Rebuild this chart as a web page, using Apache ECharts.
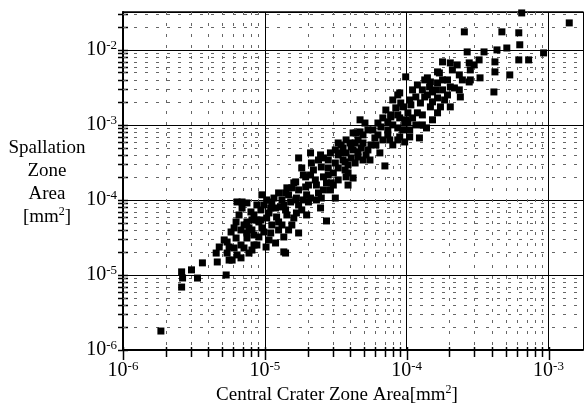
<!DOCTYPE html>
<html>
<head>
<meta charset="utf-8">
<script src="https://cdn.jsdelivr.net/npm/echarts@6/dist/echarts.min.js"></script>
<style>html,body{margin:0;padding:0;background:#fff}#c{width:586px;height:407px}</style>
</head>
<body>
<div id="c"></div>
<script>
// ---- data: [central crater zone area, spallation zone area] in mm^2 ----
const lowerPoints = [
  [1.85e-6,1.79e-6],[2.59e-6,1.10e-5],[2.63e-6,9.12e-6],[2.59e-6,6.9e-6],[3.04e-6,1.17e-5],
  [3.35e-6,9.1e-6],[3.63e-6,1.45e-5],[4.54e-6,1.96e-5],[4.62e-6,1.49e-5],[5.34e-6,1.0e-5],
  [4.77e-6,2.36e-5],[5.42e-6,1.96e-5],[5.6e-6,1.58e-5],[5.17e-6,2.93e-5],[5.6e-6,2.36e-5],
  [6.37e-6,1.85e-5],[5.78e-6,3.74e-5],[6.27e-6,3.11e-5],[6.79e-6,2.51e-5],[7.73e-6,1.96e-5],
  [6.27e-6,5.09e-5],[6.79e-6,3.98e-5],[7.48e-6,3.11e-5],[8.38e-6,2.51e-5],[6.79e-6,1.69e-5],
  [6.37e-6,9.4e-5],[6.91e-6,7.82e-5],[7.48e-6,9.12e-5],[7.48e-6,5.09e-5],[8.11e-6,3.98e-5],
  [9.08e-6,3.21e-5],[7.98e-6,6.92e-5],[8.79e-6,8.58e-5],[8.79e-6,5.41e-5],[9.53e-6,4.24e-5],
  [9.38e-6,7.36e-5],[9.53e-6,1.17e-4],[6.91e-6,9.4e-5],[5.42e-6,2.75e-5],[5.88e-6,1.58e-5],
  [8.11e-6,2.15e-5],[7.48e-6,3.63e-5],[8.11e-6,5.41e-5],
  [6.07e-6,4.24e-5],[6.58e-6,6.31e-5],[7.13e-6,4.64e-5],[7.73e-6,4.24e-5],[8.38e-6,6.31e-5],
  [8.38e-6,3.41e-5],[9.08e-6,5.09e-5],[7.13e-6,2.29e-5],[6.07e-6,2.29e-5],[8.79e-6,2.51e-5],
  [9.84e-6,8.58e-5],[9.84e-6,3.74e-5],[9.38e-6,5.41e-5]
];
const middlePoints = [
  [1.02e-5,2.36e-5],[1.03e-5,1.0e-4],[1.03e-5,5.75e-5],[1.12e-5,4.64e-5],[1.10e-5,3.63e-5],
  [1.19e-5,2.67e-5],[1.10e-5,7.82e-5],[1.21e-5,5.93e-5],[1.32e-5,4.64e-5],[1.36e-5,3.21e-5],
  [1.36e-5,2.03e-5],[1.25e-5,1.24e-4],[1.29e-5,8.07e-5],[1.43e-5,6.31e-5],[1.55e-5,4.64e-5],
  [1.43e-5,1.45e-4],[1.52e-5,9.4e-5],[1.67e-5,6.71e-5],[1.65e-5,1.74e-4],[1.67e-5,1.06e-4],
  [1.73e-5,3.63e-5],[1.12e-5,9.4e-5],[1.19e-5,7.82e-5],[1.40e-5,7.36e-5],[1.82e-5,7.36e-5],
  [1.97e-5,6.31e-5],[2.47e-5,7.82e-5],[2.72e-5,5.25e-5],[1.65e-5,1.0e-4],[2.03e-5,9.4e-5],
  [2.50e-5,1.06e-4],[3.14e-5,1.06e-4],[1.40e-5,1.24e-4],[1.55e-5,1.45e-4],[1.97e-5,1.17e-4],
  [2.39e-5,1.24e-4],[2.90e-5,1.36e-4],[1.60e-5,1.69e-4],[1.94e-5,1.49e-4],[2.31e-5,1.58e-4],
  [2.72e-5,1.69e-4],[3.29e-5,1.85e-4],[3.74e-5,2.03e-4],[4.19e-5,1.96e-4],[1.82e-5,2.67e-4],
  [2.10e-5,2.15e-4],[2.59e-5,2.03e-4],[3.04e-5,2.29e-4],[3.68e-5,2.51e-4],[2.13e-5,3.11e-4],
  [2.50e-5,2.75e-4],[3.14e-5,3.11e-4],[3.68e-5,3.21e-4],[4.33e-5,3.11e-4],[4.54e-5,3.74e-4],
  [1.73e-5,3.63e-4],[2.10e-5,4.24e-4],[2.47e-5,3.98e-4],[2.90e-5,4.24e-4],[3.14e-5,4.64e-4],
  [3.56e-5,4.93e-4],[3.99e-5,5.75e-4],[4.40e-5,7.82e-4],[4.69e-5,1.17e-3],[5.08e-5,1.06e-3],
  [3.74e-5,6.31e-4],[4.33e-5,5.75e-4],[3.29e-5,5.75e-4],[3.40e-5,4.24e-4],[4.06e-5,3.63e-4],
  [7.02e-5,2.84e-4],[2.80e-5,2.67e-4],[3.86e-5,2.29e-4],[2.94e-5,1.69e-4],[1.94e-5,2.03e-4],
  [2.27e-5,1.85e-4],[4.19e-5,7.82e-4],[4.69e-5,8.07e-4],[5.33e-5,8.58e-4],[4.77e-5,4.93e-4],
  [4.92e-5,5.75e-4],[5.60e-5,5.41e-4],[5.17e-5,3.98e-4],[6.47e-5,4.24e-4],[7.98e-5,5.41e-4],
  [7.60e-5,6.31e-4],[5.97e-5,6.71e-4],[6.27e-5,7.36e-4],[6.58e-5,9.4e-4],[7.36e-5,8.58e-4],
  [8.65e-5,9.12e-4],[8.93e-5,6.92e-4],[9.68e-5,5.93e-4],[3.45e-5,5.41e-4],[4.06e-5,5.09e-4],
  [3.29e-5,3.98e-4],[3.74e-5,4.24e-4],[4.54e-5,4.37e-4],[2.59e-5,3.63e-4],[1.32e-5,1.0e-4],
  [1.40e-5,1.96e-5],[9.68e-5,1.06e-3],[7.73e-5,1.28e-3],[8.38e-5,1.69e-3],[6.27e-5,1.06e-3],
  [7.36e-5,1.10e-3],[9.84e-5,1.17e-3],[8.93e-5,1.24e-3],[9.38e-5,1.74e-3],[8.93e-5,2.67e-3],
  [9.84e-5,4.37e-3],[7.73e-5,1.36e-3],[9.08e-5,1.96e-3],[8.65e-5,2.51e-3],
  [1.07e-5,6.71e-5],[1.16e-5,1.06e-4],[1.25e-5,5.09e-5],[1.36e-5,8.58e-5],[1.47e-5,1.17e-4],
  [1.47e-5,3.98e-5],[1.60e-5,5.75e-5],[1.73e-5,8.58e-5],[1.73e-5,1.36e-4],[1.07e-5,2.93e-5],
  [1.25e-5,3.98e-5],
  [1.87e-5,2.15e-4],[2.03e-5,1.58e-4],[2.20e-5,2.51e-4],[2.31e-5,1.0e-4],[2.59e-5,1.36e-4],
  [2.80e-5,2.15e-4],[3.04e-5,1.58e-4],[3.29e-5,2.67e-4],[2.10e-5,1.06e-4],[1.87e-5,1.0e-4],
  [2.80e-5,3.41e-4],[2.39e-5,3.41e-4],
  [3.56e-5,3.41e-4],[3.86e-5,2.93e-4],[4.19e-5,4.64e-4],[4.54e-5,6.31e-4],[4.92e-5,3.41e-4],
  [5.33e-5,4.64e-4],[5.78e-5,8.58e-4],[6.07e-5,5.41e-4],[3.86e-5,1.58e-4],[4.92e-5,7.36e-4],
  [5.51e-5,3.41e-4],[6.79e-5,6.31e-4],
  [6.79e-5,1.24e-3],[7.36e-5,7.36e-4],[7.98e-5,1.0e-3],[8.65e-5,1.36e-3],[9.38e-5,8.58e-4],
  [8.65e-5,6.31e-4],[7.13e-5,1.58e-3],[7.98e-5,2.15e-3]
];
const upperPoints = [
  [1.05e-4,6.92e-4],[1.23e-4,6.71e-4],[1.38e-4,9.12e-4],[1.05e-4,8.58e-4],[1.02e-4,1.45e-3],
  [1.19e-4,1.45e-3],[1.65e-4,1.45e-3],[1.07e-4,1.85e-3],[1.25e-4,1.96e-3],[1.47e-4,1.74e-3],
  [1.73e-4,1.74e-3],[2.03e-4,1.74e-3],[1.05e-4,2.15e-3],[1.16e-4,2.36e-3],[1.34e-4,2.36e-3],
  [1.65e-4,2.29e-3],[1.85e-4,2.15e-3],[1.29e-4,2.93e-3],[1.60e-4,2.93e-3],[2.03e-4,3.21e-3],
  [2.35e-4,2.93e-3],[4.12e-4,2.75e-3],[1.34e-4,3.98e-3],[1.47e-4,3.74e-3],[1.65e-4,3.63e-3],
  [1.45e-4,3.21e-3],[1.70e-4,4.93e-3],[1.40e-4,4.24e-3],[2.35e-4,4.64e-3],[2.47e-4,3.98e-3],
  [2.81e-4,3.98e-3],[3.29e-4,4.24e-3],[2.76e-4,3.74e-3],[2.81e-4,5.41e-3],[4.19e-4,5.09e-3],
  [5.33e-4,4.64e-3],[1.79e-4,6.92e-3],[2.03e-4,6.71e-3],[2.76e-4,6.71e-3],[3.24e-4,7.36e-3],
  [4.19e-4,6.92e-3],[6.17e-4,7.36e-3],[7.24e-4,7.36e-3],[2.99e-4,6.31e-3],[2.67e-4,9.4e-3],
  [3.51e-4,9.4e-3],[4.33e-4,1.0e-2],[5.08e-4,1.06e-2],[9.23e-4,9.12e-3],[6.27e-4,1.17e-2],
  [2.55e-4,1.74e-2],[4.69e-4,1.74e-2],[6.17e-4,1.69e-2],[6.47e-4,3.11e-2],[1.40e-3,2.29e-2],
  [2.17e-4,3.11e-3],[2.39e-4,2.36e-3],[1.52e-4,2.03e-3],[1.65e-4,5.09e-3],
  [1.02e-4,1.10e-3],[1.10e-4,1.24e-3],[1.16e-4,1.0e-3],[1.29e-4,1.36e-3],[1.40e-4,2.51e-3],
  [1.52e-4,2.75e-3],[1.79e-4,2.93e-3],[1.94e-4,3.98e-3],[2.10e-4,5.41e-3],[1.79e-4,3.98e-3],
  [1.19e-4,3.41e-3],[2.27e-4,6.31e-3],[1.94e-4,2.51e-3],[1.10e-4,2.93e-3],[1.52e-4,1.17e-3],
  [1.29e-4,1.0e-3]
];

// ---- axes ----
const xTickExponents = [-6, -5, -4, -3];
const yTickExponents = [-6, -5, -4, -3, -2];
const minorMultipliers = [2, 3, 4, 5, 6, 7, 8, 9];
const X_MIN = 1e-6, X_MAX = 1.75e-3;
const Y_MIN = 1e-6, Y_MAX = 3.2e-2;

const FONT = '"Liberation Serif", "Times New Roman", serif';

function decadeTicks(exps, lo, hi) {
  const major = [], minor = [];
  exps.forEach(e => {
    const d = Math.pow(10, e);
    if (d >= lo && d <= hi) major.push(d);
    minorMultipliers.forEach(m => { const v = m * d; if (v > lo && v < hi) minor.push(v); });
  });
  return { major, minor };
}
const xt = decadeTicks(xTickExponents, X_MIN, X_MAX);
const yt = decadeTicks(yTickExponents, Y_MIN, Y_MAX);

function expLabel(exps) {
  return function (v) {
    const e = Math.log10(v);
    const r = Math.round(e);
    if (Math.abs(e - r) > 1e-6 || exps.indexOf(r) < 0) return '';
    return '{b|10}{s|' + r + '}';
  };
}
const labelRich = {
  b: { fontFamily: FONT, fontSize: 20, color: '#000', lineHeight: 22 },
  s: { fontFamily: FONT, fontSize: 13, color: '#000', lineHeight: 11, verticalAlign: 'top' }
};

const crisp = v => Math.round(v) + 0.5;
const MINOR_STYLE = { stroke: '#666', lineWidth: 1, lineDash: [3, 8] };

const chart = echarts.init(document.getElementById('c'), null, { renderer: 'canvas' });
chart.setOption({
  backgroundColor: '#fff',
  animation: false,
  grid: { left: 123, right: -2, top: 12, bottom: 57, show: false },
  xAxis: [{
    type: 'log', logBase: 10, min: X_MIN, max: X_MAX, position: 'bottom',
    axisLine: { show: true, onZero: false, lineStyle: { color: '#000', width: 2 } },
    axisTick: { show: false },
    splitLine: { show: true, lineStyle: { color: '#000', width: 1 } },
    axisLabel: { formatter: expLabel(xTickExponents), rich: labelRich, margin: 10, showMinLabel: true, showMaxLabel: true }
  }, {
    type: 'log', logBase: 10, min: X_MIN, max: X_MAX, position: 'top',
    axisLine: { show: true, onZero: false, lineStyle: { color: '#000', width: 1.5 } },
    axisTick: { show: false }, axisLabel: { show: false }, splitLine: { show: false }
  }],
  yAxis: [{
    type: 'log', logBase: 10, min: Y_MIN, max: Y_MAX, position: 'left',
    axisLine: { show: true, onZero: false, lineStyle: { color: '#000', width: 2 } },
    axisTick: { show: false },
    splitLine: { show: true, lineStyle: { color: '#000', width: 1 } },
    axisLabel: { formatter: expLabel(yTickExponents), rich: labelRich, margin: 6 }
  }],
  graphic: [{
    type: 'text', x: 47, y: 183,
    style: {
      text: 'Spallation\nZone\nArea\n[mm{s|2}]',
      fontFamily: FONT, fontSize: 19, fill: '#000',
      textAlign: 'center', textVerticalAlign: 'middle', lineHeight: 23,
      rich: { s: { fontFamily: FONT, fontSize: 12, fill: '#000', verticalAlign: 'top', lineHeight: 20 } }
    }
  }, {
    type: 'text', x: 337, y: 395,
    style: {
      text: 'Central Crater Zone Area[mm{s|2}]',
      fontFamily: FONT, fontSize: 19, fill: '#000',
      textAlign: 'center', textVerticalAlign: 'middle', lineHeight: 22,
      rich: { s: { fontFamily: FONT, fontSize: 12, fill: '#000', verticalAlign: 'top', lineHeight: 20 } }
    }
  }],
  series: [{
    // vertical minor grid lines + x ticks
    type: 'custom', silent: true, z: 1,
    data: xt.minor.map(v => [v, Y_MIN, 0]).concat(xt.major.map(v => [v, Y_MIN, 1])),
    encode: { x: 0, y: 1 },
    renderItem: function (params, api) {
      const v = api.value(0), isMajor = api.value(2) === 1;
      const b = api.coord([v, Y_MIN]), t = api.coord([v, Y_MAX]);
      const x = crisp(b[0]);
      const children = [{
        type: 'line', shape: { x1: x, y1: b[1] + (isMajor ? 10 : 7), x2: x, y2: b[1] - 3 },
        style: { stroke: '#000', lineWidth: 1.5 }
      }];
      if (!isMajor) children.push({
        type: 'line', shape: { x1: x, y1: t[1], x2: x, y2: b[1] }, style: MINOR_STYLE
      });
      return { type: 'group', children };
    }
  }, {
    // horizontal minor grid lines + y ticks
    type: 'custom', silent: true, z: 1,
    data: yt.minor.map(v => [X_MIN, v, 0]).concat(yt.major.map(v => [X_MIN, v, 1])),
    encode: { x: 0, y: 1 },
    renderItem: function (params, api) {
      const v = api.value(1), isMajor = api.value(2) === 1;
      const l = api.coord([X_MIN, v]), r = api.coord([X_MAX, v]);
      const y = crisp(l[1]);
      const children = [{
        type: 'line', shape: { x1: l[0] - 5, y1: y, x2: l[0] + 5, y2: y },
        style: { stroke: '#000', lineWidth: 1.5 }
      }];
      if (!isMajor) children.push({
        type: 'line', shape: { x1: l[0], y1: y, x2: r[0], y2: y }, style: MINOR_STYLE
      });
      return { type: 'group', children };
    }
  }, {
    type: 'scatter', z: 5, clip: false,
    symbol: 'rect', symbolSize: 7,
    itemStyle: { color: '#000', opacity: 1 },
    data: lowerPoints.concat(middlePoints, upperPoints)
  }]
});
</script>
</body>
</html>
